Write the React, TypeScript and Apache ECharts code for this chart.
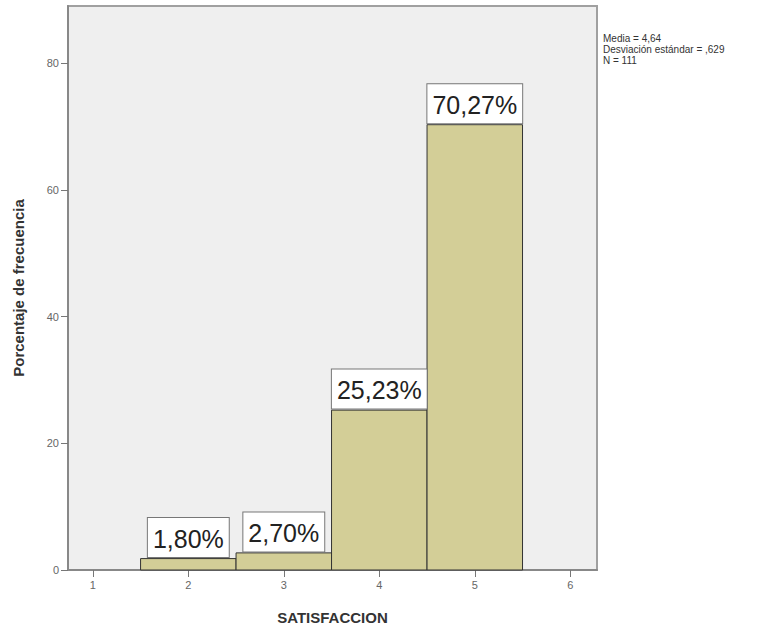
import React, { useEffect, useRef } from "react";
import * as echarts from "echarts";

const categories = [2, 3, 4, 5];
const percentages = [1.8, 2.7, 25.23, 70.27];
const xTicks = [1, 2, 3, 4, 5, 6];
const yTicks = [0, 20, 40, 60, 80];
const statsLines = ["Media = 4,64", "Desviación estándar = ,629", "N = 111"];

const FONT = "'Liberation Sans', Arial, sans-serif";

export default function App() {
  const ref = useRef<HTMLDivElement>(null);
  useEffect(() => {
    if (!ref.current) return;
    const chart = echarts.init(ref.current, null, { renderer: "svg" });
    const data = categories.map((c, i) => [c, percentages[i]]);
    chart.setOption({
      animation: false,
      textStyle: { fontFamily: FONT },
      grid: {
        left: 68,
        top: 6,
        right: 183,
        bottom: 63,
        show: true,
        backgroundColor: "#efefef",
        borderColor: "#a0a0a0",
        borderWidth: 2,
      },
      xAxis: {
        type: "value",
        min: 0.74,
        max: 6.28,
        name: "SATISFACCION",
        nameLocation: "middle",
        nameGap: 40,
        nameTextStyle: { fontSize: 15, fontWeight: "bold", color: "#333", fontFamily: FONT },
        axisLine: { show: true, lineStyle: { color: "#888", width: 2 } },
        axisTick: { show: true, customValues: xTicks, length: 7, lineStyle: { color: "#777" } },
        axisLabel: {
          customValues: xTicks,
          color: "#666",
          fontSize: 11,
          margin: 9,
          formatter: (v: number) => String(Math.round(v)),
        },
        splitLine: { show: false },
      },
      yAxis: {
        type: "value",
        min: 0,
        max: 89,
        name: "Porcentaje de frecuencia",
        nameLocation: "middle",
        nameGap: 42,
        nameTextStyle: { fontSize: 15, fontWeight: "bold", color: "#333", fontFamily: FONT },
        axisLine: { show: true, lineStyle: { color: "#888", width: 2 } },
        axisTick: { show: true, customValues: yTicks, length: 7, lineStyle: { color: "#777" } },
        axisLabel: {
          customValues: yTicks,
          color: "#666",
          fontSize: 11,
          margin: 9,
          formatter: (v: number) => String(Math.round(v)),
        },
        splitLine: { show: false },
      },
      graphic: [
        {
          type: "text",
          left: 603,
          top: 33,
          style: {
            text: statsLines.join("\n"),
            fontSize: 10,
            lineHeight: 11,
            fill: "#333",
            fontFamily: FONT,
          },
        },
      ],
      series: [
        {
          type: "custom",
          data,
          encode: { x: 0, y: 1 },
          renderItem: (params: any, api: any) => {
            const x = api.value(0);
            const y = api.value(1);
            const p1 = api.coord([x - 0.5, y]);
            const p2 = api.coord([x + 0.5, 0]);
            const text = y.toFixed(2).replace(".", ",") + "%";
            return {
              type: "rect",
              shape: { x: p1[0], y: p1[1], width: p2[0] - p1[0], height: p2[1] - p1[1] },
              style: { fill: "#d3ce97", stroke: "#333", lineWidth: 1 },
              textContent: {
                style: {
                  text,
                  fontSize: 25,
                  fontFamily: FONT,
                  fill: "#222",
                  backgroundColor: "#fff",
                  borderColor: "#777",
                  borderWidth: 1,
                  padding: [8, 5, 6, 5],
                },
              },
              textConfig: { position: "top", distance: 1 },
            };
          },
        },
      ],
    });
    return () => chart.dispose();
  }, []);
  return (
    <div
      ref={ref}
      style={{ position: "fixed", left: 0, top: 0, width: 780, height: 633, background: "#fff" }}
    />
  );
}
